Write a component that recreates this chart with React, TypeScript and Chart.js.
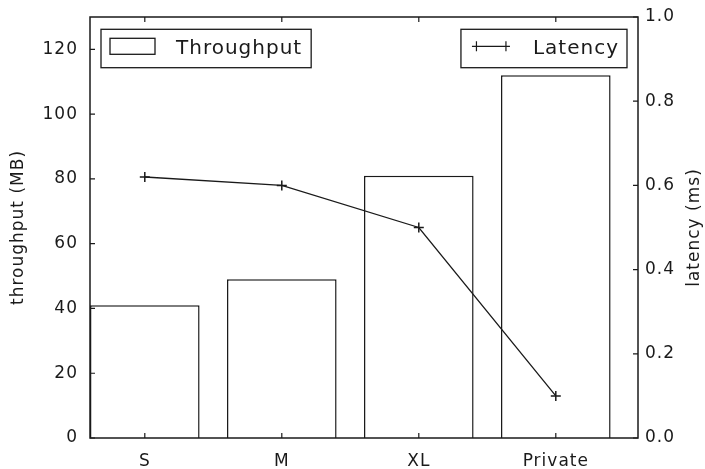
import React, { useEffect, useRef } from "react";
import { Chart, registerables } from "chart.js";

Chart.register(...registerables);

const categories = ["S", "M", "XL", "Private"];
const throughputValues = [41, 49, 81, 112];
const latencyValues = [0.62, 0.6, 0.5, 0.1];
const leftTickValues = [0, 20, 40, 60, 80, 100, 120];
const rightTickValues = [0, 0.2, 0.4, 0.6, 0.8, 1.0];
const throughputLabel = "Throughput";
const latencyLabel = "Latency";
const leftAxisTitle = "throughput (MB)";
const rightAxisTitle = "latency (ms)";

const FONT = "'DejaVu Sans', sans-serif";
const INK = "#1a1a1a";
const SPACING = "1px";

const spacingPlugin = {
  id: "spacing",
  beforeUpdate(chart: any) {
    (chart.ctx as any).letterSpacing = SPACING;
  },
  beforeDraw(chart: any) {
    (chart.ctx as any).letterSpacing = SPACING;
  },
};

const zeroPad = (s: any) => {
  s.paddingTop = 0;
  s.paddingBottom = 0;
  s.paddingLeft = 0;
  s.paddingRight = 0;
};

const framePlugin = {
  id: "frame",
  afterDatasetsDraw(chart: any) {
    const { ctx, chartArea: a, scales } = chart;
    ctx.save();
    (ctx as any).letterSpacing = SPACING;
    ctx.strokeStyle = INK;
    ctx.lineWidth = 1.5;
    ctx.strokeRect(a.left, a.top, a.right - a.left, a.bottom - a.top);
    const T = 5;
    ctx.lineWidth = 1.2;
    ctx.beginPath();
    const x = scales.x;
    x.ticks.forEach((t: any) => {
      const px = x.getPixelForValue(t.value);
      ctx.moveTo(px, a.bottom);
      ctx.lineTo(px, a.bottom - T);
      ctx.moveTo(px, a.top);
      ctx.lineTo(px, a.top + T);
    });
    const yl = scales.y;
    yl.ticks.forEach((t: any) => {
      const py = yl.getPixelForValue(t.value);
      ctx.moveTo(a.left, py);
      ctx.lineTo(a.left + T, py);
    });
    const yr = scales.y1;
    yr.ticks.forEach((t: any) => {
      const py = yr.getPixelForValue(t.value);
      ctx.moveTo(a.right, py);
      ctx.lineTo(a.right - T, py);
    });
    ctx.stroke();

    // right axis title (reads bottom-to-top)
    ctx.save();
    ctx.font = `17px ${FONT}`;
    ctx.fillStyle = INK;
    ctx.textAlign = "center";
    ctx.textBaseline = "middle";
    ctx.translate(chart.width - 10.5, (a.top + a.bottom) / 2);
    ctx.rotate(-Math.PI / 2);
    ctx.fillText(rightAxisTitle, 0, 0);
    ctx.restore();

    // legends
    const ds0 = chart.data.datasets[0];
    const ds1 = chart.data.datasets[1];
    ctx.font = `20px ${FONT}`;
    ctx.textBaseline = "alphabetic";
    ctx.textAlign = "left";
    const boxTop = a.top + 12.3;
    const boxH = 38.4;
    const midY = boxTop + 17;
    const baseY = boxTop + 25;
    // Throughput legend
    const w0 = ctx.measureText(ds0.label).width;
    const bx0 = a.left + 11;
    const bw0 = 9 + 45 + 21 + w0 + 9;
    ctx.fillStyle = "#fff";
    ctx.fillRect(bx0, boxTop, bw0, boxH);
    ctx.lineWidth = 1.3;
    ctx.strokeStyle = INK;
    ctx.strokeRect(bx0, boxTop, bw0, boxH);
    ctx.strokeRect(bx0 + 9, midY - 8, 45, 16);
    ctx.fillStyle = INK;
    ctx.fillText(ds0.label, bx0 + 9 + 45 + 21, baseY);
    // Latency legend
    const w1 = ctx.measureText(ds1.label).width;
    const bw1 = 11 + 38 + 23 + w1 + 8;
    const bx1 = a.right - 11 - bw1;
    ctx.fillStyle = "#fff";
    ctx.fillRect(bx1, boxTop, bw1, boxH);
    ctx.strokeRect(bx1, boxTop, bw1, boxH);
    const lx0 = bx1 + 11;
    const lx1 = lx0 + 38;
    ctx.lineWidth = 1.2;
    ctx.beginPath();
    ctx.moveTo(lx0, midY);
    ctx.lineTo(lx1, midY);
    [lx0 + 4.5, lx1 - 4].forEach((px) => {
      ctx.moveTo(px, midY - 5);
      ctx.lineTo(px, midY + 5);
    });
    ctx.stroke();
    ctx.fillStyle = INK;
    ctx.fillText(ds1.label, lx1 + 23, baseY);
    ctx.restore();
  },
};

export default function App() {
  const ref = useRef<HTMLCanvasElement | null>(null);
  useEffect(() => {
    document.body.style.margin = "0";
    const chart = new Chart(ref.current as HTMLCanvasElement, {
      type: "bar",
      data: {
        datasets: [
          {
            type: "bar",
            label: throughputLabel,
            data: throughputValues.map((v, i) => ({ x: i, y: v })),
            backgroundColor: "#ffffff",
            borderColor: INK,
            borderWidth: 1.5,
            categoryPercentage: 0.8,
            barPercentage: 1.0,
            yAxisID: "y",
            order: 2,
          } as any,
          {
            type: "line",
            label: latencyLabel,
            data: latencyValues.map((v, i) => ({ x: i, y: v })),
            borderColor: INK,
            borderWidth: 1.3,
            pointStyle: "cross",
            pointRadius: 5,
            pointBorderWidth: 1.5,
            pointBorderColor: INK,
            fill: false,
            tension: 0,
            yAxisID: "y1",
            order: 1,
          } as any,
        ],
      },
      options: {
        animation: false,
        responsive: false,
        maintainAspectRatio: false,
        layout: { padding: { top: 17, left: 0, right: 0, bottom: 0 } },
        plugins: { legend: { display: false }, tooltip: { enabled: false } },
        scales: {
          x: {
            type: "linear",
            offset: false,
            min: -0.4,
            max: 3.6,
            grid: { display: false, drawTicks: false },
            border: { display: false },
            afterBuildTicks: (s: any) => {
              s.ticks = categories.map((_, i) => ({ value: i }));
            },
            ticks: {
              color: INK,
              font: { family: FONT, size: 17 },
              padding: 13,
              maxRotation: 0,
              autoSkip: false,
              callback: (v: any) => categories[Math.round(Number(v))] ?? "",
            },
            afterFit: (s: any) => {
              s.height = 31;
              zeroPad(s);
            },
          },
          y: {
            position: "left",
            min: 0,
            max: 130,
            grid: { display: false, drawTicks: false },
            border: { display: false },
            afterBuildTicks: (s: any) => {
              s.ticks = leftTickValues.map((v) => ({ value: v }));
            },
            ticks: {
              color: INK,
              font: { family: FONT, size: 17 },
              padding: 12,
              callback: (v: any) => String(v),
            },
            title: {
              display: true,
              text: leftAxisTitle,
              color: INK,
              font: { family: FONT, size: 17, lineHeight: 1 },
              padding: { top: 10, bottom: 0 },
            },
            afterFit: (s: any) => {
              s.width = 90;
              zeroPad(s);
            },
          },
          y1: {
            position: "right",
            min: 0,
            max: 1,
            grid: { display: false, drawTicks: false },
            border: { display: false },
            afterBuildTicks: (s: any) => {
              s.ticks = rightTickValues.map((v) => ({ value: v }));
            },
            ticks: {
              color: INK,
              font: { family: FONT, size: 17 },
              padding: 7,
              callback: (v: any) => Number(v).toFixed(1),
            },
            afterFit: (s: any) => {
              s.width = 67;
              zeroPad(s);
            },
          },
        },
      },
      plugins: [spacingPlugin, framePlugin],
    });
    return () => chart.destroy();
  }, []);
  return (
    <div style={{ position: "absolute", left: 0, top: 0, width: 705, height: 469 }}>
      <canvas ref={ref} width={705} height={469} style={{ width: 705, height: 469 }} />
    </div>
  );
}
